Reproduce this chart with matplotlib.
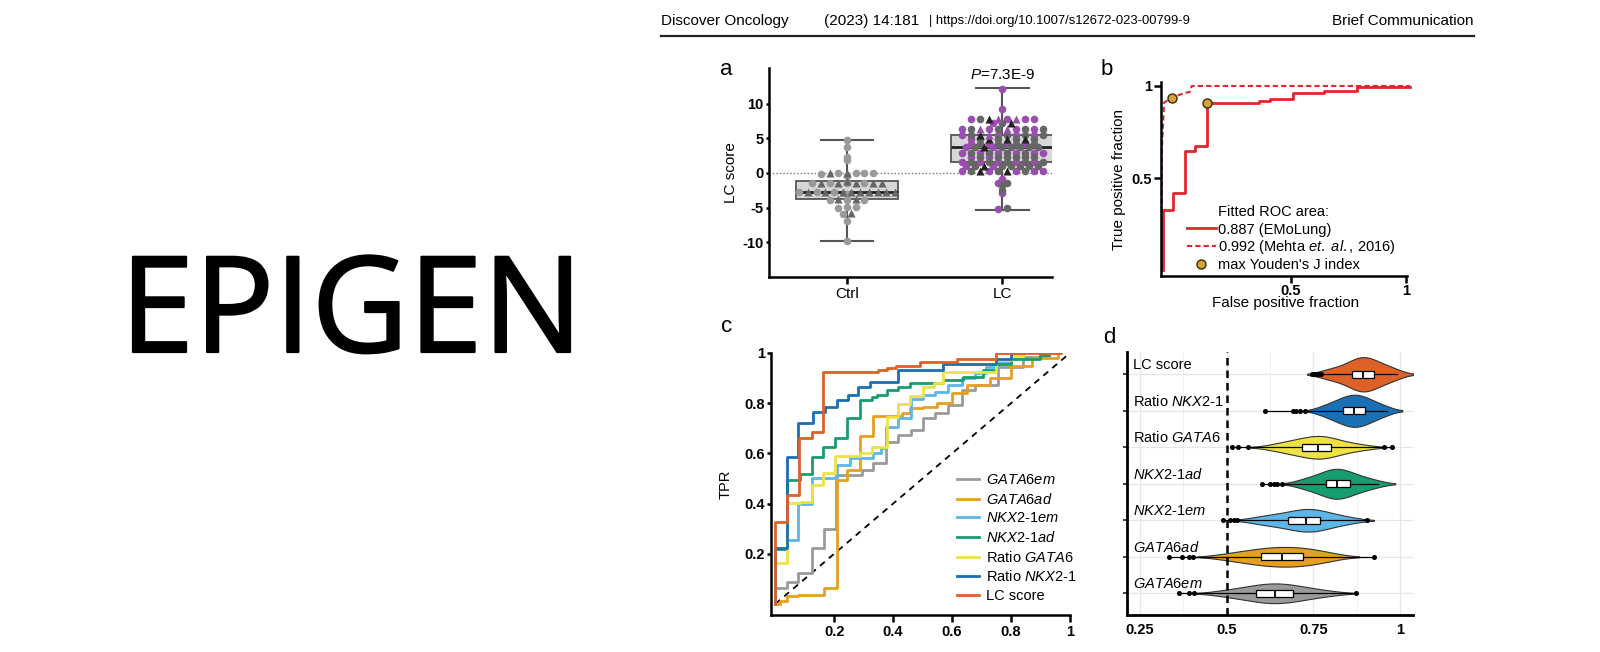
import numpy as np
import matplotlib
matplotlib.use('Agg')
import matplotlib.pyplot as plt
import matplotlib.patheffects as pe
from matplotlib import mlab
from matplotlib.lines import Line2D

plt.rcParams['font.family'] = ['Liberation Sans', 'DejaVu Sans']
plt.rcParams['mathtext.fontset'] = 'custom'
plt.rcParams['mathtext.rm'] = 'Liberation Sans'
plt.rcParams['mathtext.it'] = 'Liberation Sans:italic'
plt.rcParams['mathtext.bf'] = 'Liberation Sans:bold'

W, H = 1600, 652

### panel a: LC score per group
a_groups = ['Ctrl', 'LC']
ctrl_circles = [4.7, 3.8, 2.3, 1.9, 0.0, 0.0, -0.1, 0.0, 0.0, -0.5, -1.5, -1.5, -1.5, -1.5,
                -2.7, -2.7, -2.7, -3.0, -3.9, -3.9, -3.9, -4.9, -4.9, -5.0, -5.9, -7.0, -9.8]
ctrl_triangles = [0.0, 0.0, -1.2, -1.5, -1.5, -1.5, -1.5, -1.5, -2.7, -2.7, -2.7, -2.7, -2.7,
                  -2.7, -2.7, -2.7, -2.7, -3.8, -3.8, -5.8]
lc_purple = [12.2, 9.2, 7.8, 7.8, 7.8, 7.8, 7.2, 6.3, 6.3, 6.3, 6.3, 5.5, 5.5, 5.5, 5.5,
             4.9, 4.2, 4.2, 4.2, 4.2, 3.7, 3.7, 2.9, 2.9, 2.9, 2.9, 2.9, 2.9, 2.3, 2.3,
             1.6, 1.6, 1.6, 1.6, 1.6, 1.0, 1.0, 0.3, 0.3, 0.3, 0.3, 0.3,
             -0.9, -1.5, -2.9, -5.2]
lc_dark = [7.8, 7.2, 6.3, 6.3, 6.3, 6.3, 5.5, 5.5, 5.5, 5.5, 4.9, 4.9, 4.9, 4.9,
           4.2, 4.2, 4.2, 4.2, 3.7, 3.7, 3.7, 3.7, 3.7, 3.7, 2.9, 2.9, 2.9, 2.9,
           2.3, 2.3, 2.3, 2.3, 2.3, 2.3, 1.6, 1.6, 1.6, 1.6, 1.6,
           1.0, 1.0, 1.0, 1.0, 1.0, 1.0, 0.3, 0.3, 0.3,
           -1.5, -1.8, -2.5, -5.0]
lc_black_tri = [7.8, 7.2, 5.5, 4.9, 4.9, 4.9, 3.7, 1.0, 0.3, 0.3]
lc_purple_tri = [7.8, 7.8, 6.3, 6.3, 5.5]
ctrl_box = dict(whislo=-9.8, q1=-3.7, med=-2.7, q3=-1.1, whishi=4.7, fliers=[])
lc_box = dict(whislo=-5.3, q1=1.6, med=3.7, q3=5.5, whishi=12.3, fliers=[])
p_label = '$\\mathit{P}$=7.3E-9'

### panel b: fitted ROC
emolung_fpr = [-0.055, -0.055, -0.01, 0.04, 0.084, 0.135, 0.364, 0.41, 0.509, 0.646, 0.79, 1.02]
emolung_tpr = [0.0, 0.33, 0.42, 0.65, 0.675, 0.91, 0.92, 0.93, 0.964, 0.973, 0.994, 0.994]
mehta_fpr = [-0.06, -0.06, -0.05, -0.017, 0.033, 0.062, 0.07, 1.02]
mehta_tpr = [0.0, 0.66, 0.91, 0.937, 0.96, 0.968, 1.0, 1.0]
youden_fpr = [-0.017, 0.137]
youden_tpr = [0.937, 0.907]
b_labels = ['0.887 (EMoLung)', '0.992 (Mehta $\\mathit{et.\\ al.}$, 2016)', "max Youden's J index"]

### panel c: ROC per marker
c_names = ['$\\mathit{GATA6em}$', '$\\mathit{GATA6ad}$', '$\\mathit{NKX2}$-$\\mathit{1em}$',
           '$\\mathit{NKX2}$-$\\mathit{1ad}$', 'Ratio $\\mathit{GATA6}$',
           'Ratio $\\mathit{NKX2}$-$\\mathit{1}$', 'LC score']
fpr_gata6em = [0, 0, 0.038, 0.078, 0.123, 0.166, 0.205, 0.293, 0.332, 0.377, 0.417, 0.462, 0.502,
               0.541, 0.586, 0.632, 0.677, 0.756, 0.841, 0.93]
tpr_gata6em = [0, 0.062, 0.089, 0.122, 0.222, 0.30, 0.514, 0.534, 0.56, 0.645, 0.673, 0.693, 0.74,
               0.76, 0.793, 0.853, 0.872, 0.946, 0.985, 0.985]
fpr_gata6ad = [0, 0.015, 0.04, 0.078, 0.166, 0.208, 0.242, 0.287, 0.333, 0.43, 0.457, 0.502,
               0.55, 0.6, 0.65, 0.73, 0.8, 0.87, 0.96, 0.97]
tpr_gata6ad = [0, 0.01, 0.03, 0.036, 0.065, 0.494, 0.534, 0.67, 0.749, 0.76, 0.78, 0.786,
               0.8, 0.84, 0.873, 0.9, 0.95, 0.98, 1.0, 1.0]
fpr_nkx21em = [0, 0, 0.038, 0.078, 0.123, 0.208, 0.253, 0.332, 0.36, 0.377, 0.417, 0.462, 0.502,
               0.541, 0.586, 0.632, 0.677, 0.716, 0.756, 0.801, 0.84]
tpr_nkx21em = [0, 0.222, 0.255, 0.40, 0.5, 0.554, 0.58, 0.6, 0.62, 0.707, 0.74, 0.815, 0.833,
               0.846, 0.873, 0.9, 0.92, 0.946, 0.965, 0.99, 0.99]
fpr_nkx21ad = [0, 0, 0.038, 0.083, 0.123, 0.163, 0.202, 0.242, 0.287, 0.327, 0.344, 0.378, 0.418,
               0.457, 0.57, 0.638, 0.705, 0.75, 0.8, 0.897, 0.93]
tpr_nkx21ad = [0, 0.22, 0.494, 0.518, 0.587, 0.627, 0.66, 0.74, 0.813, 0.824, 0.833, 0.853, 0.866,
               0.879, 0.892, 0.905, 0.932, 0.958, 0.978, 0.992, 0.992]
fpr_ratio_gata6 = [0, 0, 0.039, 0.083, 0.123, 0.163, 0.202, 0.287, 0.327, 0.378, 0.418, 0.457,
                   0.502, 0.54, 0.57, 0.75, 0.8, 0.84]
tpr_ratio_gata6 = [0, 0.162, 0.401, 0.405, 0.474, 0.52, 0.59, 0.6, 0.624, 0.746, 0.797, 0.83,
                   0.866, 0.88, 0.926, 0.972, 0.99, 0.99]
fpr_ratio_nkx21 = [0, 0, 0.038, 0.076, 0.127, 0.168, 0.208, 0.245, 0.281, 0.32, 0.416, 0.57,
                   0.75, 0.8, 0.84]
tpr_ratio_nkx21 = [0, 0.222, 0.587, 0.72, 0.766, 0.786, 0.813, 0.833, 0.863, 0.886, 0.932, 0.955,
                   0.975, 1.0, 1.0]
fpr_lc_score = [0, 0, 0.038, 0.081, 0.123, 0.163, 0.35, 0.38, 0.41, 0.49, 0.615, 0.75, 0.965]
tpr_lc_score = [0, 0.328, 0.434, 0.66, 0.686, 0.925, 0.932, 0.94, 0.95, 0.965, 0.978, 1.0, 1.0]
c_fpr = [fpr_gata6em, fpr_gata6ad, fpr_nkx21em, fpr_nkx21ad, fpr_ratio_gata6, fpr_ratio_nkx21, fpr_lc_score]
c_tpr = [tpr_gata6em, tpr_gata6ad, tpr_nkx21em, tpr_nkx21ad, tpr_ratio_gata6, tpr_ratio_nkx21, tpr_lc_score]
c_colors = ['#9a9a9a', '#e69f22', '#5cb6e8', '#169e6e', '#eee244', '#1a6fb5', '#de6128']

### panel d: bootstrapped AUC (top to bottom)
d_names = ['LC score', 'Ratio $\\mathit{NKX2}$-$\\mathit{1}$', 'Ratio $\\mathit{GATA6}$',
           '$\\mathit{NKX2}$-$\\mathit{1ad}$', '$\\mathit{NKX2}$-$\\mathit{1em}$',
           '$\\mathit{GATA6ad}$', '$\\mathit{GATA6em}$']
auc_lc_score = [0.78, 0.80, 0.82, 0.835, 0.85, 0.862, 0.868, 0.875, 0.881, 0.887, 0.893, 0.899,
                0.905, 0.911, 0.918, 0.925, 0.935, 0.947, 0.96, 0.975, 0.99]
auc_ratio_nkx21 = [0.77, 0.79, 0.805, 0.815, 0.826, 0.835, 0.842, 0.849, 0.855, 0.862, 0.868,
                   0.874, 0.88, 0.886, 0.893, 0.9, 0.908, 0.918, 0.93, 0.945, 0.962]
auc_ratio_gata6 = [0.63, 0.655, 0.675, 0.69, 0.705, 0.716, 0.726, 0.736, 0.745, 0.754, 0.762,
                   0.77, 0.778, 0.785, 0.792, 0.80, 0.812, 0.826, 0.845, 0.87, 0.90]
auc_nkx21ad = [0.71, 0.73, 0.748, 0.762, 0.775, 0.785, 0.793, 0.8, 0.806, 0.812, 0.818, 0.825,
               0.832, 0.838, 0.846, 0.855, 0.866, 0.878, 0.893, 0.91, 0.935]
auc_nkx21em = [0.58, 0.605, 0.625, 0.645, 0.662, 0.678, 0.69, 0.70, 0.71, 0.72, 0.729, 0.737,
               0.745, 0.752, 0.76, 0.769, 0.78, 0.795, 0.812, 0.835, 0.86]
auc_gata6ad = [0.49, 0.52, 0.545, 0.565, 0.583, 0.598, 0.61, 0.622, 0.635, 0.648, 0.66, 0.672,
               0.684, 0.696, 0.708, 0.719, 0.732, 0.748, 0.765, 0.785, 0.805]
auc_gata6em = [0.48, 0.51, 0.535, 0.555, 0.572, 0.585, 0.597, 0.608, 0.618, 0.628, 0.639, 0.649,
               0.66, 0.67, 0.681, 0.692, 0.705, 0.722, 0.742, 0.768, 0.8]
out_lc_score = [0.745, 0.752, 0.758, 0.764, 0.771]
out_ratio_nkx21 = [0.611, 0.69, 0.70, 0.71, 0.725]
out_ratio_gata6 = [0.514, 0.534, 0.562, 0.952, 0.976]
out_nkx21ad = [0.601, 0.625, 0.635, 0.645, 0.66]
out_nkx21em = [0.489, 0.51, 0.52, 0.53, 0.904]
out_gata6ad = [0.335, 0.37, 0.39, 0.404, 0.925]
out_gata6em = [0.363, 0.39, 0.406, 0.873]
d_auc = [auc_lc_score, auc_ratio_nkx21, auc_ratio_gata6, auc_nkx21ad, auc_nkx21em, auc_gata6ad, auc_gata6em]
d_out = [out_lc_score, out_ratio_nkx21, out_ratio_gata6, out_nkx21ad, out_nkx21em, out_gata6ad, out_gata6em]
d_colors = ['#de6128', '#1a6fb5', '#eee244', '#169e6e', '#5cb6e8', '#e69f22', '#9a9a9a']
d_halfw = [0.47, 0.44, 0.31, 0.41, 0.31, 0.27, 0.27]


def px_axes(left, top, right, bottom):
    return fig.add_axes([left / W, 1 - bottom / H, (right - left) / W, (bottom - top) / H])


def ftext(x, y, s, **kw):
    fig.text(x / W, 1 - y / H, s, **kw)


def row_layout(values, kinds, bin_w, step):
    # prism-like scatter: values close together share a row, spread sideways
    values = np.asarray(values, float)
    order = np.argsort(values, kind='stable')
    rows, cur = [], [order[0]]
    for idx in order[1:]:
        if values[idx] - values[cur[0]] <= bin_w:
            cur.append(idx)
        else:
            rows.append(cur)
            cur = [idx]
    rows.append(cur)
    offs = np.zeros(len(values))
    for row in rows:
        seen, keyed = {}, []
        for idx in row:
            k = kinds[idx]
            keyed.append((seen.get(k, 0), k, idx))
            seen[k] = seen.get(k, 0) + 1
        keyed.sort()
        n = len(keyed)
        for j, (_, _, idx) in enumerate(keyed):
            offs[idx] = (j - (n - 1) / 2) * step
    return offs


fig = plt.figure(figsize=(16, 6.52), dpi=100)

# header + big word
ftext(661, 21, 'Discover Oncology', fontsize=11, va='center')
ftext(824, 21, '(2023) 14:181', fontsize=11, va='center')
ftext(929, 21, '| https://doi.org/10.1007/s12672-023-00799-9', fontsize=9.4, va='center')
ftext(1474, 21, 'Brief Communication', fontsize=11, va='center', ha='right')
fig.add_artist(Line2D([661 / W, 1474 / W], [1 - 36 / H, 1 - 36 / H], color='#222222', lw=1.6))
ftext(120, 352, 'EPIGEN', fontsize=96, va='baseline', ha='left', family=['Open Sans', 'DejaVu Sans'],
      path_effects=[pe.withStroke(linewidth=1.6, foreground='black')])

# panel letters
for letter, x, y in [('a', 720, 75), ('b', 1101, 75), ('c', 721, 332), ('d', 1103, 343)]:
    ftext(x, y, letter, fontsize=16, va='baseline')

### a
ax = px_axes(769, 68, 1052, 277)
ax.axhline(0, color='#777777', lw=1, ls=(0, (1, 1.5)), zorder=1)
ax.bxp([ctrl_box, lc_box], positions=[0, 1], widths=0.66, capwidths=0.34, patch_artist=True,
       showfliers=False,
       boxprops=dict(facecolor='#d7d7d7', edgecolor='#555555', lw=1.3),
       medianprops=dict(color='#222222', lw=2),
       whiskerprops=dict(color='#555555', lw=1.5),
       capprops=dict(color='#555555', lw=1.5), zorder=2)

ctrl_vals = ctrl_circles + ctrl_triangles
ctrl_kind = [0] * len(ctrl_circles) + [1] * len(ctrl_triangles)
ctrl_x = row_layout(ctrl_vals, ctrl_kind, 0.25, 0.056)
lc_vals = lc_purple + lc_dark + lc_black_tri + lc_purple_tri
lc_kind = ([0] * len(lc_purple) + [1] * len(lc_dark) + [2] * len(lc_black_tri)
           + [3] * len(lc_purple_tri))
lc_x = 1 + row_layout(lc_vals, lc_kind, 0.25, 0.058)

ctrl_vals, ctrl_kind, lc_vals, lc_kind = map(np.array, (ctrl_vals, ctrl_kind, lc_vals, lc_kind))
ax.scatter(ctrl_x[ctrl_kind == 0], ctrl_vals[ctrl_kind == 0], s=30, marker='o', color='#9a9a9a', lw=0, zorder=3)
ax.scatter(ctrl_x[ctrl_kind == 1], ctrl_vals[ctrl_kind == 1], s=34, marker='^', color='#666666', lw=0, zorder=3)
ax.scatter(lc_x[lc_kind == 0], lc_vals[lc_kind == 0], s=30, marker='o', color='#9a4fb0', lw=0, zorder=3)
ax.scatter(lc_x[lc_kind == 1], lc_vals[lc_kind == 1], s=30, marker='o', color='#666666', lw=0, zorder=3)
ax.scatter(lc_x[lc_kind == 2], lc_vals[lc_kind == 2], s=34, marker='^', color='#222222', lw=0, zorder=3)
ax.scatter(lc_x[lc_kind == 3], lc_vals[lc_kind == 3], s=34, marker='^', color='#9a4fb0', lw=0, zorder=3)

ax.text(1, 14.2, p_label, ha='center', va='center', fontsize=11)
ax.set_xlim(-0.503, 1.32)
ax.set_ylim(-15.03, 15.17)
ax.set_xticks([0, 1], a_groups, fontsize=11)
ax.set_yticks([-10, -5, 0, 5, 10], ['-10', '-5', '0', '5', '10'], fontsize=10.5, fontweight='bold')
ax.set_ylabel('LC score', fontsize=11, labelpad=3)
for s in ['top', 'right']:
    ax.spines[s].set_visible(False)
for s in ['left', 'bottom']:
    ax.spines[s].set_linewidth(1.8)
ax.tick_params(axis='x', width=1.8, length=5, pad=2)
ax.tick_params(axis='y', width=1.8, length=2.5, pad=1.5)

### b
ax = px_axes(1160.7, 82.3, 1410.3, 276)
ax.plot(emolung_fpr, emolung_tpr, drawstyle='steps-post', color='#e3262b', lw=2.0,
        label=b_labels[0], clip_on=False)
ax.plot(mehta_fpr, mehta_tpr, color='#e3262b', lw=1.5, ls=(0, (2.5, 1.5)), label=b_labels[1], clip_on=False)
ax.plot(youden_fpr, youden_tpr, 'o', ms=6.5, mfc='#d6a23a', mec='#3a2a00', mew=1.0,
        label=b_labels[2], zorder=4)
ax.set_xlim(-0.065, 1.02)
ax.set_ylim(-0.03, 1.02)
ax.set_xticks([0.5, 1], ['0.5', '1'], fontsize=10.5, fontweight='bold')
ax.set_yticks([0.5, 1], ['0.5', '1'], fontsize=10.5, fontweight='bold')
ax.tick_params(width=1.8, length=5, pad=1)
for s in ['top', 'right']:
    ax.spines[s].set_visible(False)
for s in ['left', 'bottom']:
    ax.spines[s].set_linewidth(1.8)
ax.spines['bottom'].set_bounds(-0.065, 1.005)
ax.set_xlabel('False positive fraction', fontsize=11, labelpad=-2)
ax.set_ylabel('True positive fraction', fontsize=11, labelpad=4)
ax.legend(loc='upper left', bbox_to_anchor=(0.104, 0.276), frameon=False, fontsize=10.5,
          handlelength=2.0, handletextpad=0.15, labelspacing=0.13, borderpad=0, borderaxespad=0)
ftext(1218, 212, 'Fitted ROC area:', fontsize=10.5, va='center')

### c
ax = px_axes(771, 353, 1070, 615)
for fpr, tpr, col, name in zip(c_fpr, c_tpr, c_colors, c_names):
    ax.plot(fpr, tpr, drawstyle='steps-post', color=col, lw=2.0, label=name)
ax.plot([0, 1], [0, 1], color='black', lw=1.3, ls=(0, (3.5, 3)), zorder=1)
ax.set_xlim(-0.0146, 1.0)
ax.set_ylim(-0.044, 1.0)
ax.set_xticks([0.2, 0.4, 0.6, 0.8, 1], ['0.2', '0.4', '0.6', '0.8', '1'], fontsize=10.5, fontweight='bold')
ax.set_yticks([0.2, 0.4, 0.6, 0.8, 1], ['0.2', '0.4', '0.6', '0.8', '1'], fontsize=10.5, fontweight='bold')
ax.tick_params(axis='x', width=1.8, length=5, pad=2)
ax.tick_params(axis='y', width=1.8, length=3, pad=1.5)
for s in ['top', 'right']:
    ax.spines[s].set_visible(False)
for s in ['left', 'bottom']:
    ax.spines[s].set_linewidth(1.8)
ax.set_ylabel('TPR', fontsize=10.5, labelpad=8)
ax.legend(loc='upper left', bbox_to_anchor=(0.621, 0.542), frameon=False, fontsize=10.5,
          handlelength=1.5, handletextpad=0.5, labelspacing=0.32, borderpad=0, borderaxespad=0)

### d
ax = px_axes(1127.3, 352, 1413, 615)
d_pos = [7, 6, 5, 4, 3, 2, 1]
ax.set_xticks([0.25, 0.5, 0.75, 1.0])
ax.set_xticks([0.375, 0.625, 0.875], minor=True)
ax.grid(True, which='major', color='#e6e6e6', lw=0.9)
ax.grid(True, which='minor', axis='x', color='#f0f0f0', lw=0.7)
ax.set_axisbelow(True)
for y, name, vals, outs, col, hw in zip(d_pos, d_names, d_auc, d_out, d_colors, d_halfw):
    vals = np.array(vals)
    kde = mlab.GaussianKDE(vals, 'scott')
    bw = vals.std(ddof=1) * kde.factor
    xs = np.linspace(vals.min() - 1.6 * bw, vals.max() + 1.6 * bw, 240)
    dens = kde.evaluate(xs)
    half = dens / dens.max() * hw
    ax.fill_between(xs, y - half, y + half, facecolor=col, edgecolor='#333333', lw=0.8, zorder=2)
    q1, med, q3 = np.percentile(vals, [25, 50, 75])
    allv = list(vals) + list(outs)
    stats = dict(med=med, q1=q1, q3=q3, whislo=min(allv), whishi=max(allv), fliers=outs)
    ax.bxp([stats], positions=[y], widths=0.2, orientation='horizontal', patch_artist=True,
           showcaps=False,
           boxprops=dict(facecolor='white', edgecolor='black', lw=0.9),
           medianprops=dict(color='black', lw=1.3),
           whiskerprops=dict(color='black', lw=0.9),
           flierprops=dict(marker='o', ms=2.6, mfc='black', mec='black'), zorder=3)
    ax.text(0.23, y + 0.14, name, fontsize=10.5, va='baseline', ha='left', zorder=4)
ax.axvline(0.5, color='black', lw=1.8, ls=(0, (3, 2)), zorder=3)
ax.set_xlim(0.2135, 1.037)
ax.set_ylim(0.405, 7.61)
ax.set_xticks([0.25, 0.5, 0.75, 1.0], ['0.25', '0.5', '0.75', '1'], fontsize=10.5, fontweight='bold')
ax.set_yticks(d_pos, [''] * 7)
ax.tick_params(axis='x', length=0, pad=6)
ax.tick_params(axis='x', which='minor', length=0)
ax.tick_params(axis='y', length=3, width=1.3, color='#333333')
for s in ['top', 'right']:
    ax.spines[s].set_visible(False)
for s in ['left', 'bottom']:
    ax.spines[s].set_linewidth(2.0)

fig.savefig('out.png', dpi=100)
